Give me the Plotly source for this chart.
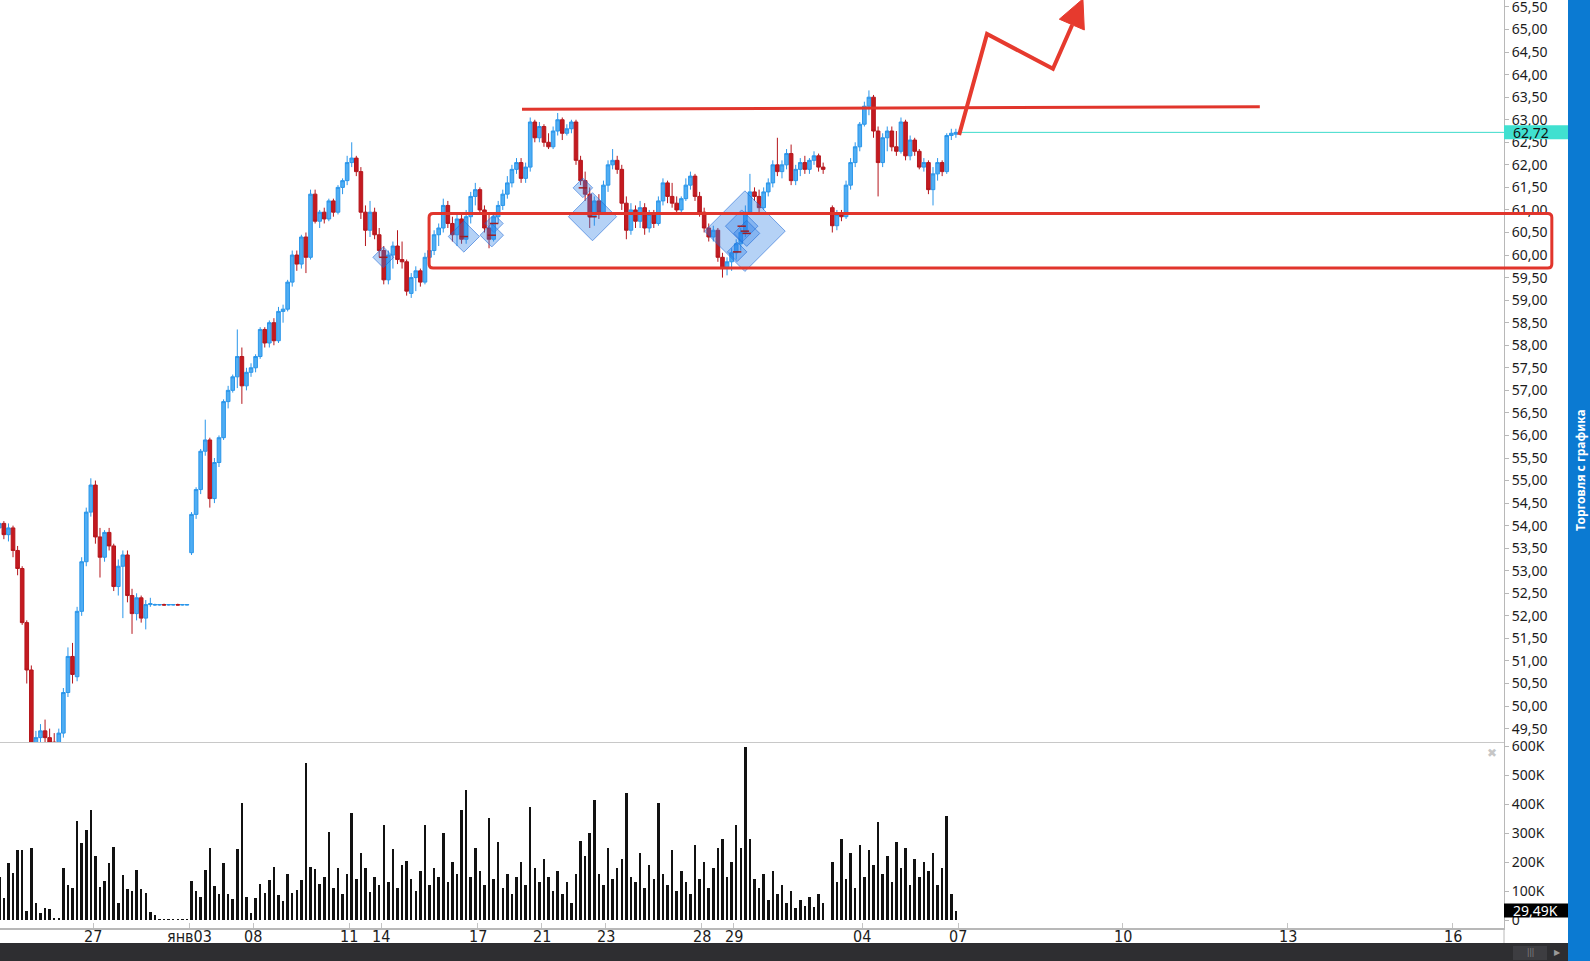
import plotly.graph_objects as go

# ---------------- data (2-hour candles, 7 per trading session) ----------------
opens = [
    53.95, 54.05, 53.80, 53.95, 53.45, 53.05, 51.85,   # Dec 24
    50.80, 49.10, 49.30, 49.45, 49.30, 49.20, 49.05,   # Dec 25
    49.40, 50.30, 51.10, 50.65, 52.10, 53.20, 54.30,   # Dec 26
    54.90, 53.75, 53.30, 53.85, 53.55, 52.65, 53.10,   # Dec 27
    53.35, 52.45, 52.05, 52.40, 51.95, 52.25, 52.24,   # Dec 28
    52.24, 52.25, 52.24, 52.24, 52.25, 52.24, 52.24,   # Dec 29
    53.40, 54.25, 54.80, 55.65, 55.90, 54.60, 55.40,   # Jan 03
    55.95, 56.75, 57.00, 57.30, 57.75, 57.10, 57.40,   # Jan 04
    57.50, 57.75, 58.35, 58.05, 58.50, 58.10, 58.75,   # Jan 08
    58.80, 59.40, 60.00, 59.80, 60.40, 59.95, 61.35,   # Jan 09
    60.75, 60.95, 60.80, 61.20, 60.95, 61.50, 61.65,   # Jan 10
    62.05, 62.15, 61.85, 60.95, 60.55, 60.95, 60.45,   # Jan 11
    60.10, 59.45, 60.00, 60.20, 59.90, 59.85, 59.15,   # Jan 14
    59.50, 59.65, 59.40, 59.95, 60.10, 60.45, 60.60,   # Jan 15
    61.10, 60.70, 60.45, 60.80, 60.35, 60.85, 61.30,   # Jan 16
    61.45, 61.00, 60.60, 60.35, 60.85, 61.10, 61.35,   # Jan 17
    61.60, 61.90, 62.05, 61.70, 61.95, 62.95, 62.60,   # Jan 18
    62.85, 62.50, 62.40, 62.75, 63.00, 62.70, 62.80,   # Jan 21
    62.95, 62.10, 61.65, 61.35, 60.85, 61.20, 60.95,   # Jan 22
    61.55, 62.00, 62.10, 61.90, 61.15, 60.55, 61.00,   # Jan 23
    60.75, 61.05, 60.60, 60.90, 60.70, 61.20, 61.60,   # Jan 24
    61.30, 61.15, 61.00, 61.25, 61.55, 61.75, 61.30,   # Jan 25
    60.95, 60.60, 60.40, 60.55, 59.95, 59.70, 59.85,   # Jan 28
    60.05, 60.25, 60.50, 60.95, 61.40, 61.30, 61.05,   # Jan 29
    61.40, 61.60, 62.00, 61.85, 62.00, 62.25, 61.65,   # Jan 30
    61.90, 62.05, 61.90, 62.10, 62.20, 61.95, None,    # Jan 31
    61.05, 60.65, 60.90, 60.85, 61.55, 62.05, 62.40,   # Feb 01
    62.90, 63.30, 63.50, 62.75, 62.05, 62.60, 62.75,   # Feb 04
    62.40, 62.30, 62.95, 62.20, 62.55, 62.30, 61.95,   # Feb 05
    62.05, 61.45, 61.80, 62.05, 61.85, 62.65, 62.68,   # Feb 06
]
highs = [
    54.15, 54.10, 54.05, 54.00, 53.55, 53.10, 51.90,
    50.90, 49.45, 49.60, 49.70, 49.50, 49.40, 49.50,
    50.40, 51.30, 51.40, 52.20, 53.30, 54.40, 55.05,
    55.00, 53.95, 53.90, 53.95, 53.60, 53.25, 53.45,
    53.45, 52.60, 52.50, 52.45, 52.35, 52.40, 52.27,
    52.26, 52.27, 52.26, 52.26, 52.27, 52.26, 52.26,
    54.30, 54.85, 55.70, 56.35, 55.95, 55.50, 56.00,
    56.80, 57.10, 57.35, 58.35, 57.95, 57.50, 57.60,
    57.80, 58.40, 58.40, 58.55, 58.60, 58.85, 58.90,
    59.45, 60.10, 60.10, 60.45, 60.50, 61.45, 61.45,
    61.00, 61.05, 61.25, 61.25, 61.55, 61.70, 62.20,
    62.50, 62.20, 61.95, 61.10, 61.20, 61.05, 60.60,
    60.20, 60.10, 60.30, 60.55, 60.30, 59.90, 59.60,
    59.75, 59.70, 60.05, 60.20, 60.55, 60.70, 61.25,
    61.20, 60.85, 60.90, 60.95, 61.00, 61.40, 61.60,
    61.50, 61.10, 60.90, 60.95, 61.20, 61.45, 61.75,
    62.00, 62.15, 62.15, 62.05, 63.05, 63.00, 62.95,
    62.90, 62.70, 62.85, 63.15, 63.05, 62.90, 63.00,
    63.00, 62.20, 61.85, 61.50, 61.30, 61.35, 61.65,
    62.10, 62.35, 62.20, 62.00, 61.30, 61.15, 61.10,
    61.20, 61.15, 61.00, 61.00, 61.30, 61.70, 61.65,
    61.60, 61.30, 61.30, 61.70, 61.85, 61.80, 61.40,
    61.05, 60.70, 60.65, 60.60, 60.05, 59.95, 60.15,
    60.35, 60.60, 61.10, 61.80, 61.50, 61.45, 61.50,
    61.70, 62.10, 62.60, 62.10, 62.35, 62.45, 62.00,
    62.15, 62.20, 62.15, 62.30, 62.25, 62.05, None,
    61.10, 61.00, 61.00, 61.65, 62.15, 62.50, 62.95,
    63.40, 63.65, 63.55, 62.85, 62.70, 62.85, 62.85,
    62.75, 63.05, 63.00, 62.65, 62.60, 62.35, 62.15,
    62.10, 61.95, 62.15, 62.10, 62.70, 62.80, 62.80,
]
lows = [
    53.80, 53.70, 53.65, 53.30, 52.90, 51.80, 50.50,
    48.90, 48.85, 49.10, 49.20, 49.00, 48.90, 48.95,
    49.30, 50.20, 50.50, 50.55, 52.00, 53.10, 54.20,
    53.60, 52.85, 53.20, 53.45, 52.55, 52.45, 51.95,
    52.30, 51.60, 51.90, 51.85, 51.70, 52.20, 52.22,
    52.23, 52.23, 52.23, 52.23, 52.23, 52.23, 52.23,
    53.35, 54.15, 54.70, 55.55, 54.40, 54.50, 55.30,
    55.90, 56.60, 56.95, 57.05, 56.70, 57.00, 57.30,
    57.40, 57.70, 57.95, 57.95, 58.00, 58.05, 58.50,
    58.75, 59.30, 59.65, 59.70, 59.60, 59.90, 60.70,
    60.60, 60.70, 60.75, 60.85, 60.90, 61.35, 61.55,
    61.95, 61.75, 60.80, 60.20, 60.40, 60.35, 59.95,
    59.35, 59.35, 59.70, 59.80, 59.70, 59.10, 59.05,
    59.20, 59.30, 59.35, 59.80, 60.00, 60.20, 60.50,
    60.60, 60.30, 60.20, 60.25, 60.25, 60.70, 61.10,
    60.90, 60.50, 60.15, 60.30, 60.70, 61.00, 61.25,
    61.50, 61.80, 61.60, 61.60, 61.85, 62.50, 62.50,
    62.40, 62.35, 62.35, 62.65, 62.55, 62.65, 62.70,
    62.00, 61.55, 61.20, 60.60, 60.65, 60.80, 60.90,
    61.40, 61.90, 61.80, 61.00, 60.35, 60.45, 60.60,
    60.60, 60.45, 60.50, 60.60, 60.65, 61.10, 61.15,
    61.05, 60.90, 60.90, 61.20, 61.45, 61.20, 60.85,
    60.50, 60.30, 60.30, 59.85, 59.50, 59.55, 59.65,
    59.90, 60.10, 60.40, 60.90, 61.20, 60.95, 61.00,
    61.30, 61.50, 61.75, 61.70, 61.90, 61.55, 61.55,
    61.75, 61.80, 61.80, 62.00, 61.85, 61.80, None,
    60.50, 60.55, 60.75, 60.80, 61.45, 61.95, 62.30,
    62.85, 63.10, 62.60, 61.30, 61.95, 62.30, 62.30,
    62.20, 62.25, 62.10, 62.10, 62.20, 61.90, 61.85,
    61.35, 61.10, 61.65, 61.75, 61.80, 62.55, 62.60,
]
closes = [
    54.05, 53.80, 53.95, 53.45, 53.05, 51.85, 50.80,
    49.10, 49.30, 49.45, 49.30, 49.20, 49.05, 49.40,
    50.30, 51.10, 50.70, 52.10, 53.20, 54.30, 54.90,
    53.75, 53.30, 53.85, 53.55, 52.65, 53.10, 53.35,
    52.45, 52.05, 52.40, 51.95, 52.25, 52.27, 52.25,
    52.25, 52.24, 52.25, 52.25, 52.24, 52.25, 52.25,
    54.25, 54.80, 55.65, 55.90, 54.60, 55.40, 55.95,
    56.75, 57.00, 57.30, 57.75, 57.10, 57.40, 57.50,
    57.75, 58.35, 58.05, 58.50, 58.10, 58.75, 58.80,
    59.40, 60.00, 59.80, 60.40, 59.95, 61.35, 60.75,
    60.95, 60.80, 61.20, 60.95, 61.50, 61.65, 62.05,
    62.15, 61.85, 60.95, 60.55, 60.95, 60.45, 60.10,
    59.45, 60.00, 60.20, 59.90, 59.85, 59.20, 59.50,
    59.65, 59.40, 59.95, 60.10, 60.45, 60.60, 61.10,
    60.70, 60.45, 60.80, 60.35, 60.85, 61.30, 61.45,
    61.00, 60.60, 60.35, 60.85, 61.10, 61.35, 61.60,
    61.90, 62.05, 61.70, 61.95, 62.95, 62.60, 62.85,
    62.50, 62.40, 62.75, 63.00, 62.70, 62.80, 62.95,
    62.10, 61.65, 61.35, 60.85, 61.20, 60.95, 61.55,
    62.00, 62.10, 61.90, 61.15, 60.55, 61.00, 60.75,
    61.05, 60.60, 60.90, 60.70, 61.20, 61.60, 61.30,
    61.15, 61.00, 61.25, 61.55, 61.75, 61.30, 60.95,
    60.60, 60.40, 60.55, 59.95, 59.70, 59.85, 60.05,
    60.25, 60.50, 60.95, 61.40, 61.30, 61.05, 61.40,
    61.60, 62.00, 61.85, 62.00, 62.25, 61.65, 61.90,
    62.05, 61.90, 62.10, 62.20, 61.95, 61.90, None,
    60.65, 60.90, 60.85, 61.55, 62.05, 62.40, 62.90,
    63.30, 63.50, 62.75, 62.05, 62.60, 62.75, 62.40,
    62.30, 62.95, 62.20, 62.55, 62.30, 61.95, 62.05,
    61.45, 61.80, 62.05, 61.85, 62.65, 62.70, 62.72,
]
volumes = [
    150000, 75000, 195000, 163000, 240000, 241000, 30000,
    247000, 60000, 23000, 40000, 38000, 6000, 6000,
    178000, 120000, 109000, 343000, 264000, 310000, 379000,
    221000, 115000, 134000, 198000, 253000, 57000, 155000,
    106000, 100000, 172000, 106000, 92000, 29000, 17000,
    2000, 1000, 1000, 3000, 1000, 1000, 2000,
    134000, 100000, 80000, 172000, 249000, 117000, 89000,
    195000, 90000, 72000, 245000, 402000, 78000, 23000,
    77000, 123000, 92000, 138000, 184000, 86000, 66000,
    159000, 92000, 103000, 138000, 540000, 184000, 175000,
    123000, 150000, 302000, 110000, 180000, 90000, 160000,
    368000, 140000, 230000, 180000, 95000, 150000, 120000,
    326000, 130000, 245000, 110000, 190000, 205000, 140000,
    100000, 170000, 326000, 120000, 180000, 150000, 300000,
    130000, 200000, 160000, 379000, 449000, 150000, 250000,
    170000, 120000, 351000, 140000, 270000, 110000, 160000,
    90000, 150000, 200000, 120000, 390000, 180000, 130000,
    210000, 150000, 100000, 170000, 90000, 130000, 60000,
    160000, 274000, 220000, 300000, 414000, 160000, 120000,
    250000, 140000, 180000, 210000, 439000, 150000, 130000,
    230000, 110000, 190000, 140000, 404000, 160000, 120000,
    240000, 100000, 170000, 130000, 90000, 260000, 140000,
    200000, 110000, 180000, 250000, 281000, 150000, 200000,
    326000, 250000, 596000, 280000, 140000, 110000, 160000,
    70000, 170000, 90000, 120000, 60000, 100000, 40000,
    70000, 50000, 80000, 45000, 90000, 60000, None,
    200000, 130000, 281000, 140000, 230000, 110000, 260000,
    150000, 240000, 190000, 337000, 160000, 220000, 130000,
    270000, 180000, 250000, 120000, 210000, 150000, 200000,
    170000, 230000, 120000, 180000, 358000, 90000, 29490,
]

# date ticks (position in bar units: session start = 7 * session index)
tick_pos = [0, 21, 42, 56, 77, 84, 105, 119, 133, 154, 161, 189, 210, 246, 282, 318]
tick_labels = ["24", "27", "янв03", "08", "11", "14", "17", "21", "23",
               "28", "29", "04", "07", "10", "13", "16"]

# trade markers (diamonds): bar position, price, size
trade_pos = [84.4, 102.0, 108.6, 108.1, 128.0, 130.1, 163.4, 162.7, 163.8, 161.7]
trade_price = [59.95, 60.41, 60.70, 60.44, 61.49, 60.85, 60.53, 60.64, 60.48, 60.07]
trade_size = [16, 24, 14, 18, 15, 37, 62, 25, 20, 15]

# drawings
resist_pos = [114.7, 275.9]
resist_price = [63.23, 63.29]
box_pos = [94.4, 339.7]
box_price = [59.71, 60.92]
arrow_pos = [210.2, 216.3, 230.7, 234.9]
arrow_price = [62.66, 64.90, 64.13, 65.10]
head_pos = [237.25, 232.1, 237.56]
head_price = [65.68, 65.23, 64.99]
last_price = 62.72
last_volume = 29490

# ---------------- geometry helpers ----------------
W, H = 1590, 961
ML, MR, MT, MB = 0, 86, 0, 33
PW, PH = W - ML - MR, H - MT - MB
X_MIN, X_MAX = 0.655, 329.25
P_MIN, P_MAX = 49.203, 65.655
V_MIN, V_MAX = -27600, 613800
SPLIT = 186 / PH

def px(pos):
    return (pos - X_MIN) / (X_MAX - X_MIN)

def py(p):
    return SPLIT + (p - P_MIN) / (P_MAX - P_MIN) * (1 - SPLIT)

def pv(v):
    return (v - V_MIN) / (V_MAX - V_MIN) * SPLIT

def fx(pix):
    return (pix - ML) / PW

def fy(pix):
    return (PH + MT - pix) / PH

n = len(closes)
bar_pos = [i + 0.5 for i in range(n)]

RED = "#e1352c"
fig = go.Figure()
fig.add_trace(go.Candlestick(
    x=bar_pos, open=opens, high=highs, low=lows, close=closes,
    xaxis="x", yaxis="y",
    increasing=dict(line=dict(color="#2a96ea", width=1), fillcolor="#4fadf3"),
    decreasing=dict(line=dict(color="#b5161c", width=1), fillcolor="#c41a20"),
    whiskerwidth=0, hoverinfo="skip", showlegend=False,
))
fig.add_trace(go.Scatter(
    x=trade_pos, y=trade_price, mode="markers", xaxis="x", yaxis="y",
    marker=dict(symbol="diamond", size=trade_size, color="rgba(45,130,232,0.5)",
                line=dict(color="rgba(30,105,215,0.9)", width=1)),
    hoverinfo="skip", showlegend=False,
))
fig.add_trace(go.Scatter(
    x=trade_pos, y=trade_price, mode="markers", xaxis="x", yaxis="y",
    marker=dict(symbol="line-ew", size=6, line=dict(color="#a01c22", width=1.5)),
    hoverinfo="skip", showlegend=False,
))
fig.add_trace(go.Bar(
    x=bar_pos, y=volumes, xaxis="x2", yaxis="y2", width=0.55,
    marker=dict(color="#111111", line=dict(width=0)),
    hoverinfo="skip", showlegend=False,
))

shapes = []
shapes.append(dict(type="line", xref="x", yref="y", x0=210.0, x1=X_MAX,
                   y0=last_price, y1=last_price, line=dict(color="#3ddccb", width=1)))
shapes.append(dict(type="line", xref="paper", yref="paper",
                   x0=px(resist_pos[0]), x1=px(resist_pos[1]),
                   y0=py(resist_price[0]), y1=py(resist_price[1]),
                   line=dict(color=RED, width=3)))
bx0, bx1 = px(box_pos[0]), px(box_pos[1])
by0, by1 = py(box_price[0]), py(box_price[1])
rx, ry = 4 / PW, 4 / PH
box_path = (f"M{bx0+rx},{by1} L{bx1-rx},{by1} Q{bx1},{by1} {bx1},{by1-ry} "
            f"L{bx1},{by0+ry} Q{bx1},{by0} {bx1-rx},{by0} L{bx0+rx},{by0} "
            f"Q{bx0},{by0} {bx0},{by0+ry} L{bx0},{by1-ry} Q{bx0},{by1} {bx0+rx},{by1} Z")
shapes.append(dict(type="path", xref="paper", yref="paper", path=box_path,
                   line=dict(color=RED, width=3)))
arrow_path = "M" + " L".join(f"{px(a)},{py(b)}" for a, b in zip(arrow_pos, arrow_price))
shapes.append(dict(type="path", xref="paper", yref="paper", path=arrow_path,
                   line=dict(color="#e63a2e", width=4)))
head_path = "M" + " L".join(f"{px(a)},{py(b)}" for a, b in zip(head_pos, head_price)) + " Z"
shapes.append(dict(type="path", xref="paper", yref="paper", path=head_path,
                   fillcolor="#e63a2e", line=dict(color="#e63a2e", width=1)))
shapes.append(dict(type="rect", xref="paper", yref="paper", x0=1, x1=fx(1568),
                   y0=py(last_price) - 7 / PH, y1=py(last_price) + 7 / PH,
                   fillcolor="#40e0d0", line=dict(width=0)))
shapes.append(dict(type="rect", xref="paper", yref="paper", x0=1, x1=fx(1568),
                   y0=pv(last_volume) - 6 / PH, y1=pv(last_volume) + 8 / PH,
                   fillcolor="#000000", line=dict(width=0)))
shapes.append(dict(type="line", xref="paper", yref="paper", x0=1, x1=1,
                   y0=0, y1=fy(943), line=dict(color="#b8b8b8", width=1)))
shapes.append(dict(type="rect", xref="paper", yref="paper", x0=fx(0), x1=fx(1568),
                   y0=fy(961), y1=fy(943), fillcolor="#2e2e31", line=dict(width=0)))
shapes.append(dict(type="rect", xref="paper", yref="paper", x0=fx(1513), x1=fx(1547),
                   y0=fy(960), y1=fy(946), fillcolor="#3d3d41", line=dict(width=0)))
shapes.append(dict(type="rect", xref="paper", yref="paper", x0=fx(1568), x1=fx(1590),
                   y0=fy(961), y1=fy(0), fillcolor="#0b7ad2", line=dict(width=0)))

DATE_FONT = dict(family="Liberation Sans Narrow, DejaVu Sans Condensed, sans-serif",
                 size=16, color="#1c1c1c")
annotations = [
    dict(xref="x2", yref="paper", x=p, y=fy(936), text=t, showarrow=False,
         xanchor="center", yanchor="middle", font=DATE_FONT)
    for p, t in zip(tick_pos, tick_labels)
]
annotations += [
    dict(xref="paper", yref="paper", x=fx(1511), y=py(last_price), xanchor="left",
         yanchor="middle", text="62,72", showarrow=False,
         font=dict(family="Noto Sans", size=14, color="#111111")),
    dict(xref="paper", yref="paper", x=fx(1511), y=pv(last_volume) + 1 / PH, xanchor="left",
         yanchor="middle", text="29,49K", showarrow=False,
         font=dict(family="Noto Sans", size=14, color="#ffffff")),
    dict(xref="paper", yref="paper", x=fx(1580), y=fy(470), text="<b>Торговля с графика</b>",
         xanchor="center", yanchor="middle",
         textangle=-90, showarrow=False, font=dict(family="Noto Sans", size=12, color="#ffffff")),
    dict(xref="paper", yref="paper", x=fx(1492), y=fy(753), text="✖", showarrow=False,
         xanchor="center", yanchor="middle",
         font=dict(family="DejaVu Sans", size=12, color="#c6c6c6")),
    dict(xref="paper", yref="paper", x=fx(1530), y=fy(953), text="|||", showarrow=False,
         xanchor="center", yanchor="middle",
         font=dict(family="DejaVu Sans Condensed", size=8, color="#8a8a8a")),
    dict(xref="paper", yref="paper", x=fx(1557), y=fy(953), text="▶", showarrow=False,
         xanchor="center", yanchor="middle",
         font=dict(family="DejaVu Sans", size=8, color="#9a9a9a")),
]

axis_line = "#b8b8b8"
fig.update_layout(
    width=W, height=H, margin=dict(l=ML, r=MR, t=MT, b=MB, pad=0, autoexpand=False),
    paper_bgcolor="#ffffff", plot_bgcolor="#ffffff",
    separators=", ", showlegend=False, hovermode=False,
    boxgap=0.12, boxgroupgap=0.1, bargap=0,
    xaxis=dict(domain=[0, 1], anchor="y", range=[X_MIN, X_MAX], showticklabels=False,
               showgrid=False, zeroline=False, showline=True, linecolor="#c8c8c8",
               linewidth=1, ticks="", rangeslider=dict(visible=False), fixedrange=True,
               automargin=False),
    yaxis=dict(domain=[SPLIT, 1], anchor="x", side="right", range=[P_MIN, P_MAX],
               tick0=49.5, dtick=0.5, tickformat=".2f", showgrid=False, zeroline=False,
               showline=True, linecolor=axis_line, linewidth=1, ticks="outside",
               ticklen=4, tickcolor=axis_line, automargin=False, ticklabeloverflow="allow",
               tickfont=dict(family="Noto Sans", size=14, color="#1c1c1c")),
    xaxis2=dict(domain=[0, 1], anchor="y2", matches="x", range=[X_MIN, X_MAX],
                tickmode="array", tickvals=tick_pos, ticktext=tick_labels,
                showticklabels=False, automargin=False,
                showgrid=False, zeroline=False, showline=True, linecolor=axis_line,
                linewidth=2, ticks="inside", ticklen=5, tickcolor="#c4c4c4"),
    yaxis2=dict(domain=[0, SPLIT], anchor="x2", side="right", range=[V_MIN, V_MAX],
                tickmode="array", tickvals=[0, 100000, 200000, 300000, 400000, 500000, 600000],
                ticktext=["0", "100K", "200K", "300K", "400K", "500K", "600K"],
                showgrid=False, zeroline=False, showline=True, linecolor=axis_line,
                linewidth=1, ticks="outside", ticklen=4, tickcolor=axis_line, automargin=False,
                ticklabeloverflow="allow",
                tickfont=dict(family="Noto Sans", size=14, color="#1c1c1c")),
    shapes=shapes, annotations=annotations,
)

fig.write_html(
    "out.html",
    config={"displayModeBar": False},
    post_script="document.body.style.margin='0';document.body.style.overflow='hidden';",
)
